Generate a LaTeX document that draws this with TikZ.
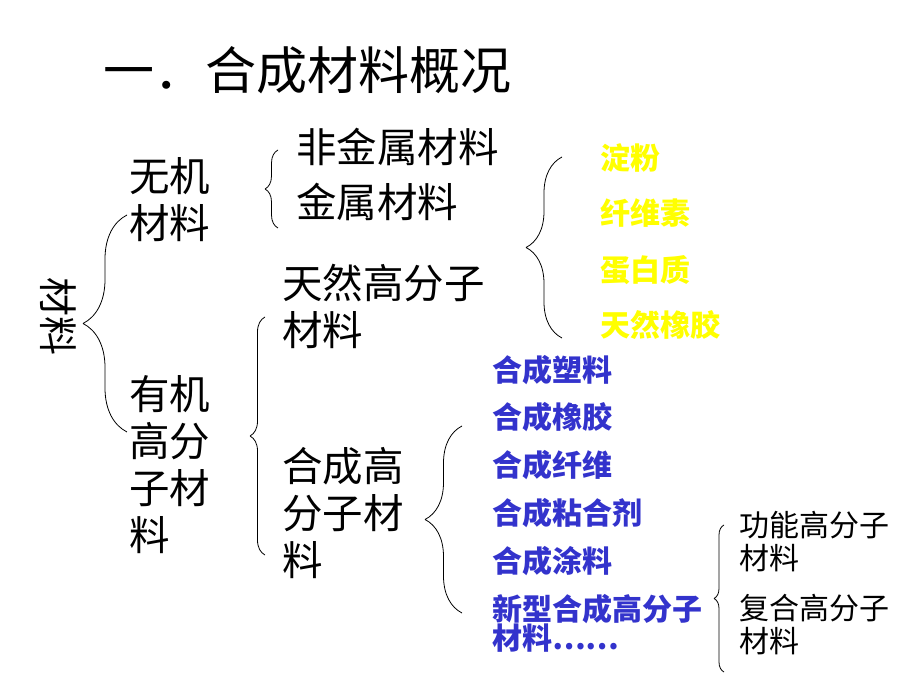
\documentclass[tikz,border=0pt]{standalone}
\usepackage{fontspec}
\newfontfamily\cjk{Noto Sans CJK SC}
\usetikzlibrary{decorations.pathreplacing}
\definecolor{labelblue}{RGB}{51,51,204}
\definecolor{labelyellow}{RGB}{255,255,0}
\tikzset{
  big/.style={anchor=west,inner sep=0pt,align=left,font=\cjk\fontsize{40.5bp}{47bp}\selectfont},
  small/.style={anchor=west,inner sep=0pt,align=left,font=\cjk\fontsize{30bp}{33bp}\selectfont},
  colored/.style={small,font=\cjk\bfseries\fontsize{30bp}{33bp}\selectfont,text=#1},
  brc/.style={draw=black,line width=0.8pt,decorate,decoration={brace,amplitude=#1}},
}
\begin{document}
\begin{tikzpicture}[line join=bevel,]
%%
\useasboundingbox (0bp,0bp) rectangle (920bp,690bp);
\node (title) at (103bp,620bp) [anchor=west,inner sep=0pt,font=\cjk\fontsize{51bp}{51bp}\selectfont] {一．合成材料概况};
  \node (cailiao) at (58bp,373bp) [inner sep=0pt,rotate=-90,font=\cjk\fontsize{39bp}{39bp}\selectfont] {材料};
  \node (wuji) at (129bp,490bp) [big] {无机\\材料};
  \node (youji) at (129bp,225bp) [big] {有机\\高分\\子材\\料};
  \node (feijin) at (296bp,543bp) [big] {非金属材料};
  \node (jinshu) at (296bp,488bp) [big] {金属材料};
  \node (tianran) at (282bp,384bp) [big] {天然高分子\\材料};
  \node (hecheng) at (282bp,177bp) [big] {合成高\\分子材\\料};
%
  \node (dianfen) at (600bp,532bp) [colored=labelyellow] {淀粉};
  \node (xianwei) at (600bp,477bp) [colored=labelyellow] {纤维素};
  \node (danbai) at (600bp,420bp) [colored=labelyellow] {蛋白质};
  \node (xiangjiao) at (600bp,365bp) [colored=labelyellow] {天然橡胶};
%
  \node (suliao) at (492bp,320bp) [colored=labelblue] {合成塑料};
  \node (hcxj) at (492bp,273bp) [colored=labelblue] {合成橡胶};
  \node (hcxw) at (492bp,225bp) [colored=labelblue] {合成纤维};
  \node (zhanhe) at (492bp,177bp) [colored=labelblue] {合成粘合剂};
  \node (tuliao) at (492bp,129bp) [colored=labelblue] {合成涂料};
  \node (xinxing) at (492bp,67bp) [colored=labelblue,font=\cjk\bfseries\fontsize{30bp}{29bp}\selectfont] {新型合成高分子\\材料……};
%
  \node (gongneng) at (739bp,148bp) [small] {功能高分子\\材料};
  \node (fuhe) at (739bp,65bp) [small] {复合高分子\\材料};
%
  \coordinate (b1top) at (127bp,475bp);
  \coordinate (b1bot) at (127bp,258bp);
  \coordinate (b2top) at (278bp,540bp);
  \coordinate (b2bot) at (278bp,462bp);
  \coordinate (b3top) at (265bp,373bp);
  \coordinate (b3bot) at (265bp,135bp);
  \coordinate (b4top) at (562bp,533bp);
  \coordinate (b4bot) at (562bp,352bp);
  \coordinate (b5top) at (462bp,264bp);
  \coordinate (b5bot) at (462bp,77bp);
  \coordinate (b6top) at (724bp,165bp);
  \coordinate (b6bot) at (724bp,18bp);
  \draw [brc=44bp] (b1bot) -- (b1top);
  \draw [brc=13bp] (b2bot) -- (b2top);
  \draw [brc=15bp] (b3bot) -- (b3top);
  \draw [brc=36bp] (b4bot) -- (b4top);
  \draw [brc=37bp] (b5bot) -- (b5top);
  \draw [brc=10bp] (b6bot) -- (b6top);
%
\end{tikzpicture}
\end{document}
